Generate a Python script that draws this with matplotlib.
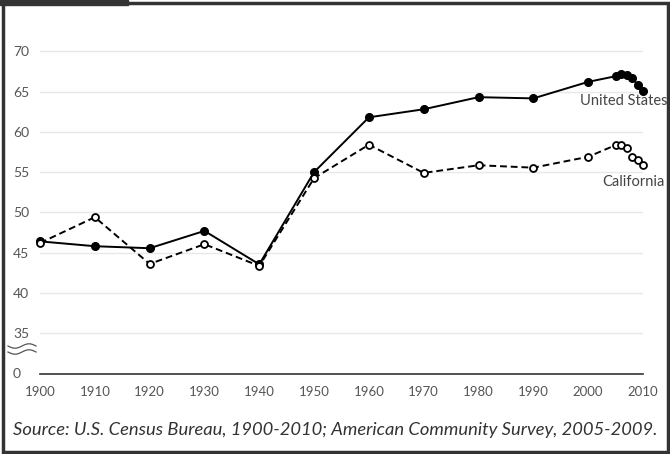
import numpy as np
import matplotlib
matplotlib.use("Agg")
from matplotlib import pyplot as plt
from matplotlib.lines import Line2D
from matplotlib.patches import Rectangle

plt.rcParams['font.family'] = ['Lato', 'DejaVu Sans']

# data
years = [1900, 1910, 1920, 1930, 1940, 1950, 1960, 1970, 1980, 1990, 2000,
         2005, 2006, 2007, 2008, 2009, 2010]
us = [46.4, 45.8, 45.55, 47.7, 43.55, 55.0, 61.8, 62.8, 64.3, 64.15, 66.2,
      66.9, 67.2, 67.1, 66.7, 65.85, 65.1]
ca = [46.2, 49.4, 43.6, 46.05, 43.35, 54.25, 58.4, 54.9, 55.85, 55.55, 56.9,
      58.35, 58.4, 57.95, 56.9, 56.5, 55.85]
decades = list(range(1900, 2011, 10))
yticks = [30, 35, 40, 45, 50, 55, 60, 65, 70]
ytick_labels = ['0', '35', '40', '45', '50', '55', '60', '65', '70']

W, H = 670, 454
fig = plt.figure(figsize=(W / 100, H / 100), dpi=100)
ax = fig.add_axes([40 / W, 1 - 373.5 / H, 603 / W, 358.5 / H])

ax.plot(years, us, color='black', lw=1.4, marker='o', ms=5.5,
        mfc='black', mec='black', clip_on=False, zorder=3)
ax.plot(years, ca, color='black', lw=1.4, ls=(0, (3.5, 2)), marker='o', ms=5,
        mfc='white', mec='black', mew=1.3, clip_on=False, zorder=4)

ax.set_xlim(1900, 2010)
ax.set_ylim(30, 74.5)
ax.set_yticks(yticks)
ax.set_yticklabels(ytick_labels, ha='left')
ax.set_xticks(decades)
ax.set_xticklabels([str(d) for d in decades])
ax.tick_params(axis='y', length=0, pad=19.5, labelsize=10, labelcolor='#555555')
ax.tick_params(axis='x', length=0, pad=9, labelsize=9.5, labelcolor='#555555')

for y in yticks[1:]:
    ax.axhline(y, color='#e8e8e8', lw=1, zorder=0)

for s in ['top', 'right', 'left']:
    ax.spines[s].set_visible(False)
ax.spines['bottom'].set_color('#333333')
ax.spines['bottom'].set_linewidth(1.2)

fig.text(667 / W, 1 - 101 / H, 'United States', ha='right', va='center',
         fontsize=10.5, color='#444444')
fig.text(665 / W, 1 - 182 / H, 'California', ha='right', va='center',
         fontsize=10.5, color='#444444')

# axis break mark
t = np.linspace(0, 1, 60)
for off in (0, 6):
    xs = 8 + 28 * t
    ys = 346 + off + 2.2 * np.sin(2 * np.pi * t)
    fig.add_artist(Line2D(xs / W, 1 - ys / H, color='#555555', lw=0.9,
                          transform=fig.transFigure))

fig.text(335 / W, 1 - 430 / H,
         'Source: U.S. Census Bureau, 1900-2010; American Community Survey, 2005-2009.',
         ha='center', va='center', fontsize=13.2, style='italic', color='#333333')

# frame
fig.add_artist(Rectangle((2.5 / W, 2.5 / H), (W - 5) / W, (H - 5.5) / H,
                         fill=False, ec='#333333', lw=2.5, transform=fig.transFigure))
fig.add_artist(Rectangle((0, 1 - 5 / H), 128 / W, 5 / H, color='#333333',
                         transform=fig.transFigure))

fig.savefig('out.png', dpi=100)
